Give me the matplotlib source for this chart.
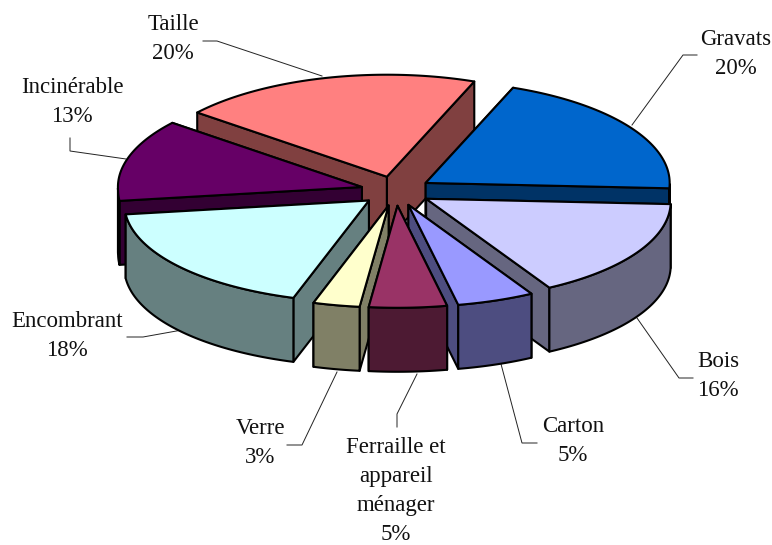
import numpy as np
import matplotlib
matplotlib.use("Agg")
import matplotlib.pyplot as plt
from matplotlib.patches import Polygon

# --- data (clockwise, starting from the Gravats slice)
categories = ["Gravats", "Bois", "Carton", "Ferraille et\nappareil\nménager",
              "Verre", "Encombrant", "Incinérable", "Taille"]
values = [20, 16, 5, 5, 3, 18, 13, 20]
top_colors = ["#0066CC", "#CCCCFF", "#9999FF", "#993366",
              "#FFFFCC", "#CCFFFF", "#660066", "#FF8080"]
side_colors = ["#003366", "#666680", "#4D4D80", "#4D1A33",
               "#808066", "#668080", "#330033", "#804040"]

# --- layout
W, H = 772, 545
START = 21.0
CX, CY, RX, RY, DEPTH, EXPLODE, PERSP = 396, 191, 244, 102, 64, 0.145, 0.025
label_pos = [(736, 54), (718, 376), (573, 441), (396, 491),
             (260, 443), (67, 336), (72, 102), (173, 39)]
leaders = [
    [(697, 55), (683, 55), (632, 125)],
    [(693, 378), (679, 378), (637, 318)],
    [(537, 443), (522, 443), (501, 364)],
    [(397, 427), (397, 414), (417, 374)],
    [(287, 445), (302, 445), (337, 372)],
    [(127, 337), (143, 337), (182, 330)],
    [(70, 138), (70, 151), (126, 159)],
    [(203, 41), (217, 41), (322, 76)],
]

fig = plt.figure(figsize=(W / 100, H / 100), dpi=100, facecolor="white")
ax = fig.add_axes([0, 0, 1, 1])
ax.set_xlim(0, W)
ax.set_ylim(H, 0)
ax.axis("off")


def project(u, v, drop=0.0):
    f = 1 + PERSP * max(v, 0)
    return (CX + RX * u * f, CY + RY * v + drop)


def wedge_point(ax0, ay0, deg):
    t = np.radians(deg)
    return ax0 + np.sin(t), ay0 - np.cos(t)


shares = np.array(values, dtype=float) / sum(values) * 360
starts = START + np.concatenate([[0], np.cumsum(shares)[:-1]])
mids = starts + shares / 2
order = sorted(range(len(values)), key=lambda i: -np.cos(np.radians(mids[i])))

EDGE = dict(edgecolor="black", linewidth=1.5, joinstyle="round")
zorder = 2.0


def add(points, color):
    global zorder
    ax.add_patch(Polygon(points, closed=True, facecolor=color, zorder=zorder, **EDGE))
    zorder += 0.01


for i in order:
    a0, a1 = starts[i], starts[i] + shares[i]
    m = np.radians(mids[i])
    ou, ov = EXPLODE * np.sin(m), -EXPLODE * np.cos(m)
    arc = np.linspace(a0, a1, 60)
    rim = [wedge_point(ou, ov, d) for d in arc]

    # radial walls, rear one first
    walls = sorted([rim[0], rim[-1]], key=lambda p: p[1])
    for pu, pv in walls:
        add([project(ou, ov), project(pu, pv),
             project(pu, pv, DEPTH), project(ou, ov, DEPTH)], side_colors[i])

    # outer wall: only the part of the rim turned towards the viewer
    front = arc[np.cos(np.radians(arc)) <= 0]
    if len(front) > 1:
        pts = [wedge_point(ou, ov, d) for d in front]
        add([project(*p) for p in pts] +
            [project(*p, DEPTH) for p in pts[::-1]], side_colors[i])

    # top face
    add([project(ou, ov)] + [project(*p) for p in rim], top_colors[i])

for line in leaders:
    xs, ys = zip(*line)
    ax.plot(xs, ys, color="#222222", lw=0.7, zorder=1.5, solid_joinstyle="miter")

for name, val, (x, y) in zip(categories, values, label_pos):
    ax.text(x, y, f"{name}\n{val}%", ha="center", va="center", multialignment="center",
            family="Liberation Serif", fontsize=16.5, color="#111111", linespacing=1.5)

fig.savefig("out.png", dpi=100, facecolor="white")
